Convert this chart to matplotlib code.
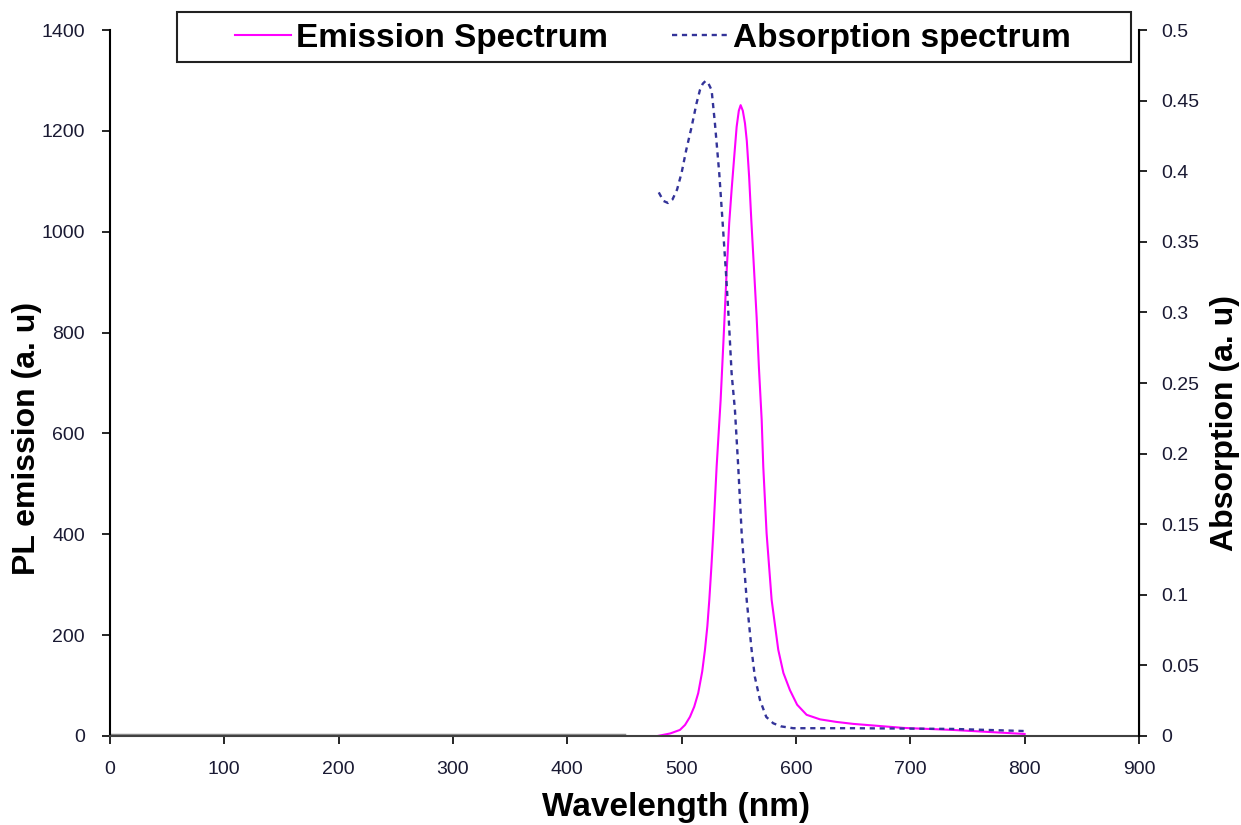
import numpy as np
import matplotlib.pyplot as plt
from matplotlib.patches import Rectangle

plt.rcParams['font.family'] = ['Liberation Sans', 'DejaVu Sans']

# emission spectrum (PL, a.u.)
em_wl = [479, 490, 498.5, 503, 507.3, 511, 514.5, 518, 520.4, 522.5, 524.2, 526, 527.7, 530.6,
         534.1, 537.3, 539.3, 541.6, 543.7, 546, 548.1, 550, 551.6, 553.5, 555.4, 557, 559,
         561, 563.2, 565.6, 567.6, 570, 571.4, 574.3, 578.7, 584.5, 589, 594.7, 601, 609.3, 621,
         635, 650, 694, 737, 800]
em_val = [0, 5, 12, 22, 38, 58, 85, 128, 171, 218, 270, 335, 402, 534,
          666, 818, 918, 1017, 1083, 1149, 1208, 1240, 1251, 1240, 1215, 1180, 1110,
          1020, 930, 830, 730, 627, 534, 402, 270, 171, 125, 91, 62, 42, 33,
          28, 24, 16, 12, 4]

# absorption spectrum (a.u.)
ab_wl = [480, 484, 488, 492, 496, 500, 504, 508.6, 513, 516, 518.5, 521, 523.5, 526.2, 529.1,
         532.9, 535.9, 538.8, 541.4, 543.7, 546.6, 549.5, 552.5, 556.9, 561.2, 564, 568.5,
         574, 580.1, 587, 597.6, 650, 737, 800]
ab_val = [0.385, 0.379, 0.3775, 0.38, 0.387, 0.399, 0.415, 0.431, 0.448, 0.4575, 0.462, 0.464,
          0.462, 0.4575, 0.434, 0.3985, 0.363, 0.3277, 0.2923, 0.2569, 0.231, 0.1907, 0.1436,
          0.0963, 0.0609, 0.042, 0.0255, 0.0135, 0.009, 0.0068, 0.0055, 0.0055, 0.005, 0.0035]

# flat baseline segment
base_wl = [0, 450]
base_val = [1, 1]

fig = plt.figure(figsize=(12.41, 8.25), dpi=100)
ax = fig.add_axes([0.0886, 0.1079, 0.8292, 0.8557])
ax2 = ax.twinx()

ax.plot(base_wl, base_val, color='#8c8c8c', lw=2.5, zorder=1)
l1, = ax.plot(em_wl, em_val, color='#ff00ff', lw=1.5, label='Emission Spectrum',
              solid_joinstyle='round')
l2, = ax2.plot(ab_wl, ab_val, color='#333399', lw=1.7, ls=(0, (2.2, 2.0)),
               label='Absorption spectrum')

ax.set_xlim(0, 900)
ax.set_ylim(0, 1400)
ax2.set_ylim(0, 0.5)
ax.set_xticks(np.arange(0, 901, 100))
ax.set_yticks(np.arange(0, 1401, 200))
ax2.set_yticks(np.arange(0, 0.51, 0.05))
ax2.set_yticklabels(['0', '0.05', '0.1', '0.15', '0.2', '0.25', '0.3', '0.35', '0.4', '0.45', '0.5'])

for a in (ax, ax2):
    a.spines['top'].set_visible(False)
    a.tick_params(labelsize=14, direction='out', length=6, width=1.2, colors='black',
                  labelcolor='#1a1a33', pad=10)
ax.spines['left'].set_linewidth(1.5)
ax.spines['bottom'].set_linewidth(1.5)
ax.spines['bottom'].set_color('#404040')
ax2.spines['right'].set_linewidth(1.5)
ax2.spines['left'].set_visible(False)
ax2.spines['bottom'].set_visible(False)
ax.tick_params(axis='x', pad=12)
ax.tick_params(axis='y', pad=12)

ax.set_xlabel('Wavelength (nm)', fontsize=24, fontweight='bold')
ax.set_ylabel('PL emission (a. u)', fontsize=23, fontweight='bold')
ax2.set_ylabel('Absorption (a. u)', fontsize=23, fontweight='bold', rotation=90)
ax.xaxis.set_label_coords(0.55, -0.102)
ax.yaxis.set_label_coords(-0.0807, 0.422)
ax2.yaxis.set_label_coords(1.0836, 0.444)
ax.yaxis.label.set_va('center')
ax2.yaxis.label.set_va('center')
ax.xaxis.label.set_va('center')

# legend box drawn in figure fractions
fig.patches.append(Rectangle((177 / 1241, 1 - 62 / 825), (1131 - 177) / 1241, 50 / 825,
                             transform=fig.transFigure, facecolor='white',
                             edgecolor='#222222', lw=1.5, zorder=5))
leg = fig.legend(handles=[l1, l2], loc='center', bbox_to_anchor=(653 / 1241, 1 - 38 / 825),
                 ncol=2, prop={'weight': 'bold', 'size': 24}, frameon=False,
                 handlelength=1.7, handletextpad=0.15, columnspacing=1.9, borderaxespad=0)
leg.set_zorder(6)

fig.savefig('out.png', dpi=100)
